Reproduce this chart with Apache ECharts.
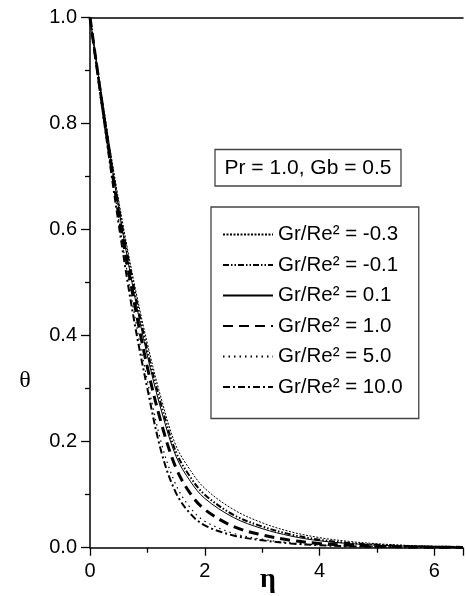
<!DOCTYPE html>
<html>
<head>
<meta charset="utf-8">
<script src="https://cdn.jsdelivr.net/npm/echarts@6/dist/echarts.min.js"></script>
<style>
html, body { margin: 0; padding: 0; background: #fff; }
#chart { width: 466px; height: 596px; }
</style>
</head>
<body>
<div id="chart"></div>
<script>
const eta = [0, 0.25, 0.5, 0.75, 1.0, 1.25, 1.5, 1.75, 2.0, 2.5, 3.0, 3.5, 4.0, 4.5, 5.0, 5.5, 6.0, 6.5]

const grNames = ["-0.3", "-0.1", "0.1", "1.0", "5.0", "10.0"]

const thetaM03 = [1, 0.82, 0.655, 0.51, 0.385, 0.278, 0.192, 0.146, 0.112, 0.072, 0.047, 0.030, 0.019, 0.012, 0.0075, 0.0045, 0.0027, 0.0018]
const thetaM01 = [1, 0.815, 0.645, 0.50, 0.372, 0.266, 0.180, 0.133, 0.100, 0.062, 0.040, 0.025, 0.015, 0.009, 0.0055, 0.0033, 0.002, 0.0013]
const theta01 = [1, 0.812, 0.64, 0.49, 0.362, 0.256, 0.172, 0.125, 0.093, 0.057, 0.036, 0.022, 0.013, 0.008, 0.0048, 0.0029, 0.0017, 0.0011]
const theta10 = [1, 0.808, 0.63, 0.475, 0.34, 0.232, 0.150, 0.102, 0.072, 0.040, 0.024, 0.014, 0.008, 0.0047, 0.0028, 0.0016, 0.001, 0.0006]
const theta50 = [1, 0.803, 0.62, 0.455, 0.315, 0.195, 0.118, 0.075, 0.050, 0.027, 0.016, 0.009, 0.0053, 0.0031, 0.0018, 0.001, 0.0006, 0.0004]
const theta100 = [1, 0.80, 0.61, 0.44, 0.30, 0.178, 0.103, 0.064, 0.042, 0.023, 0.014, 0.008, 0.0047, 0.0027, 0.0016, 0.0009, 0.0005, 0.0003]

const allTheta = [thetaM03, thetaM01, theta01, theta10, theta50, theta100]

// line looks per curve
const styles = [
  { width: 1, type: [2, 1.5] },
  { width: 2, type: [6, 2, 1.5, 2, 1.5, 2] },
  { width: 1, type: "solid" },
  { width: 3, type: [10, 6] },
  { width: 1.2, type: [1.5, 4] },
  { width: 2, type: [7, 3, 2, 3] }
]

const font = "Liberation Sans"

const series = grNames.map((g, i) => ({
  name: "Gr/Re² = " + g,
  type: "line",
  smooth: 0.35,
  symbol: "none",
  lineStyle: { color: "#000", width: styles[i].width, type: styles[i].type },
  itemStyle: { color: "#000" },
  data: eta.map((x, k) => [x, allTheta[i][k]])
}))

const option = {
  animation: false,
  backgroundColor: "#fff",
  grid: { left: 90, top: 17.5, bottom: 48.3, right: -7.5 },
  xAxis: [
    {
      type: "value",
      min: 0,
      max: 6.5,
      interval: 2,
      axisLine: { lineStyle: { color: "#000", width: 1.5 } },
      axisTick: { length: 8, lineStyle: { color: "#000", width: 1.3 } },
      minorTick: { show: true, splitNumber: 2, length: 5, lineStyle: { color: "#000", width: 1.3 } },
      splitLine: { show: false },
      axisLabel: {
        margin: 14,
        color: "#000",
        fontSize: 20,
        fontFamily: font,
        formatter: v => (v % 2 === 0 ? String(v) : "")
      }
    },
    {
      type: "value",
      position: "top",
      min: 0,
      max: 6.5,
      axisLine: { show: true, lineStyle: { color: "#000", width: 1.5 } },
      axisTick: { show: false },
      axisLabel: { show: false },
      splitLine: { show: false }
    }
  ],
  yAxis: {
    type: "value",
    min: 0,
    max: 1,
    interval: 0.2,
    axisLine: { show: true, lineStyle: { color: "#000", width: 1.5 } },
    axisTick: { show: true, length: 9, lineStyle: { color: "#000", width: 1.3 } },
    minorTick: { show: true, splitNumber: 2, length: 5, lineStyle: { color: "#000", width: 1.3 } },
    splitLine: { show: false },
    axisLabel: {
      margin: 13,
      color: "#000",
      fontSize: 20,
      fontFamily: font,
      formatter: v => v.toFixed(1)
    }
  },
  legend: {
    orient: "vertical",
    left: 211,
    top: 207,
    padding: [17, 16, 21, 11],
    itemWidth: 50,
    itemHeight: 14,
    itemGap: 9.5,
    borderColor: "#444",
    borderWidth: 1.3,
    itemStyle: { opacity: 0 },
    textStyle: { color: "#000", fontSize: 20.5, fontFamily: font },
    data: series.map(s => s.name)
  },
  graphic: [
    {
      type: "rect",
      shape: { x: 215, y: 149.5, width: 186, height: 36.5 },
      style: { fill: "#fff", stroke: "#444", lineWidth: 1.3 }
    },
    {
      type: "text",
      x: 308,
      y: 168,
      style: {
        text: "Pr = 1.0, Gb = 0.5",
        fill: "#000",
        font: "21px " + font,
        textAlign: "center",
        textVerticalAlign: "middle"
      }
    },
    {
      type: "text",
      x: 25,
      y: 381,
      style: {
        text: "θ",
        fill: "#000",
        font: "24px 'Liberation Serif'",
        textAlign: "center",
        textVerticalAlign: "middle"
      }
    },
    {
      type: "text",
      x: 268,
      y: 580,
      style: {
        text: "η",
        fill: "#000",
        font: "bold 28px 'Liberation Serif'",
        textAlign: "center",
        textVerticalAlign: "middle"
      }
    }
  ],
  series: series
}

const chart = echarts.init(document.getElementById("chart"))
chart.setOption(option)
</script>
</body>
</html>
